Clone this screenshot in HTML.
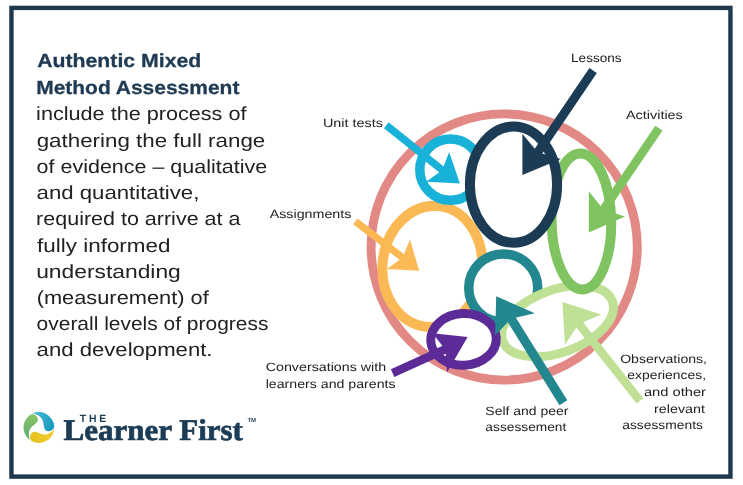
<!DOCTYPE html>
<html><head><meta charset="utf-8"><style>
html,body{margin:0;padding:0;background:#fff;width:743px;height:485px;overflow:hidden}
svg{display:block;will-change:transform} text{text-rendering:geometricPrecision}
</style></head><body>
<svg width="743" height="485" viewBox="0 0 743 485">
<rect x="0" y="0" width="743" height="485" fill="#ffffff"/>
<rect x="11.45" y="7.9" width="719" height="468.7" fill="none" stroke="#1e384d" stroke-width="4.4"/>
<circle cx="504.2" cy="247" r="133.1" fill="#ffffff" stroke="#e38985" stroke-width="8.9"/><ellipse cx="432.3" cy="266.4" rx="49.8" ry="60.6" transform="rotate(6 432.3 266.4)" fill="#ffffff" stroke="#fbb955" stroke-width="10"/><circle cx="450.4" cy="169.7" r="30.6" fill="#ffffff" stroke="#18b2d8" stroke-width="9.5"/><ellipse cx="503.25" cy="288" rx="34.5" ry="34" fill="#ffffff" stroke="#22878f" stroke-width="9.5"/><ellipse cx="557.6" cy="321.2" rx="58.3" ry="31.3" transform="rotate(-20 557.6 321.2)" fill="#ffffff" stroke="#c0e096" stroke-width="9"/><ellipse cx="581.4" cy="221.4" rx="29.8" ry="68" transform="rotate(-1 581.4 221.4)" fill="#ffffff" stroke="#80c462" stroke-width="10"/><ellipse cx="513.5" cy="184.6" rx="43.6" ry="58.1" fill="#ffffff" stroke="#1c3c56" stroke-width="10"/><ellipse cx="463.5" cy="339.4" rx="32.8" ry="25.9" transform="rotate(-3 463.5 339.4)" fill="#ffffff" stroke="#5c2b97" stroke-width="9"/>
<line x1="386.3" y1="125.2" x2="445.4" y2="172.6" stroke="#18b2d8" stroke-width="7.5"/><polygon points="449.2,152.1 459.9,183.4 426.2,181.8 442.1,170.2" fill="#18b2d8"/><line x1="355.4" y1="221.4" x2="405.8" y2="260.1" stroke="#fbb955" stroke-width="7.2"/><polygon points="410.0,239.5 419.2,270.8 387.0,269.1 402.6,257.6" fill="#fbb955"/><line x1="593.1" y1="70.6" x2="535.6" y2="155.5" stroke="#1c3c56" stroke-width="9"/><polygon points="522.4,134.1 522.4,174.9 560.9,159.0 537.8,152.2" fill="#1c3c56"/><line x1="658.9" y1="128.1" x2="601.2" y2="213.0" stroke="#80c462" stroke-width="8.8"/><polygon points="588.8,191.2 588.8,232.4 625.1,216.6 603.3,209.6" fill="#80c462"/><line x1="640.0" y1="400.8" x2="576.6" y2="320.8" stroke="#c0e096" stroke-width="8.6"/><polygon points="601.4,314.6 562.4,301.9 564.9,344.4 579.0,324.0" fill="#c0e096"/><line x1="563.4" y1="402.7" x2="509.0" y2="315.4" stroke="#22878f" stroke-width="9.3"/><polygon points="534.8,313.2 496.2,296.2 495.1,335.4 511.2,318.7" fill="#22878f"/><line x1="392.6" y1="373.2" x2="448.8" y2="347.7" stroke="#5c2b97" stroke-width="8.5"/><polygon points="432.6,333.3 467.6,337.0 447.0,372.5 445.4,349.7" fill="#5c2b97"/>

<g id="logo" transform="translate(38.9 427.5) scale(15.7)">
  <defs>
    <path id="comma" d="M -0.40,-0.90 A 0.99 0.99 0 0 1 0.98,-0.10 C 0.97,0.17 0.64,0.31 0.45,0.19 C 0.29,0.08 0.33,-0.24 0.23,-0.48 C 0.13,-0.70 -0.12,-0.84 -0.40,-0.90 Z"/>
    <linearGradient id="gB" gradientUnits="userSpaceOnUse" x1="-0.4" y1="-0.9" x2="0.8" y2="0.1"><stop offset="0" stop-color="#46b8d6"/><stop offset="1" stop-color="#179bbf"/></linearGradient>
    <linearGradient id="gG" gradientUnits="userSpaceOnUse" x1="-0.4" y1="-0.9" x2="0.8" y2="0.1"><stop offset="0" stop-color="#64ad78"/><stop offset="1" stop-color="#85c267"/></linearGradient>
    <linearGradient id="gY" gradientUnits="userSpaceOnUse" x1="-0.4" y1="-0.9" x2="0.8" y2="0.1"><stop offset="0" stop-color="#f2cc35"/><stop offset="1" stop-color="#e6c21e"/></linearGradient>
  </defs>
  <use href="#comma" fill="url(#gB)"/>
  <use href="#comma" transform="rotate(-120)" fill="url(#gG)"/>
  <use href="#comma" transform="rotate(120)" fill="url(#gY)"/>
</g>
<text id="h1" x="37.16" y="66.90" font-family="Liberation Sans" font-size="19" font-weight="bold" fill="#1f3a52" stroke="#1f3a52" stroke-width="0.3" textLength="164.14" lengthAdjust="spacingAndGlyphs">Authentic Mixed</text><text id="h2" x="36.17" y="93.80" font-family="Liberation Sans" font-size="19" font-weight="bold" fill="#1f3a52" stroke="#1f3a52" stroke-width="0.3" textLength="203.23" lengthAdjust="spacingAndGlyphs">Method Assessment</text><text id="b1" x="36.10" y="120.00" font-family="Liberation Sans" font-size="19" font-weight="normal" fill="#222222" textLength="210.40" lengthAdjust="spacingAndGlyphs">include the process of</text><text id="b2" x="36.70" y="146.90" font-family="Liberation Sans" font-size="19" font-weight="normal" fill="#222222" textLength="228.61" lengthAdjust="spacingAndGlyphs">gathering the full range</text><text id="b3" x="36.60" y="173.10" font-family="Liberation Sans" font-size="19" font-weight="normal" fill="#222222" textLength="230.52" lengthAdjust="spacingAndGlyphs">of evidence – qualitative</text><text id="b4" x="36.57" y="199.00" font-family="Liberation Sans" font-size="19" font-weight="normal" fill="#222222" textLength="162.83" lengthAdjust="spacingAndGlyphs">and quantitative,</text><text id="b5" x="36.11" y="225.30" font-family="Liberation Sans" font-size="19" font-weight="normal" fill="#222222" textLength="204.32" lengthAdjust="spacingAndGlyphs">required to arrive at a</text><text id="b6" x="37.10" y="251.90" font-family="Liberation Sans" font-size="19" font-weight="normal" fill="#222222" textLength="133.37" lengthAdjust="spacingAndGlyphs">fully informed</text><text id="b7" x="36.15" y="278.10" font-family="Liberation Sans" font-size="19" font-weight="normal" fill="#222222" textLength="144.65" lengthAdjust="spacingAndGlyphs">understanding</text><text id="b8" x="36.71" y="304.00" font-family="Liberation Sans" font-size="19" font-weight="normal" fill="#222222" textLength="172.00" lengthAdjust="spacingAndGlyphs">(measurement) of</text><text id="b9" x="36.60" y="330.00" font-family="Liberation Sans" font-size="19" font-weight="normal" fill="#222222" textLength="231.81" lengthAdjust="spacingAndGlyphs">overall levels of progress</text><text id="b10" x="36.60" y="356.20" font-family="Liberation Sans" font-size="19" font-weight="normal" fill="#222222" textLength="175.93" lengthAdjust="spacingAndGlyphs">and development.</text><text id="l_less" x="571.07" y="62.00" font-family="Liberation Sans" font-size="12" font-weight="normal" fill="#222222" textLength="50.56" lengthAdjust="spacingAndGlyphs">Lessons</text><text id="l_act" x="626.00" y="118.80" font-family="Liberation Sans" font-size="12" font-weight="normal" fill="#222222" textLength="56.79" lengthAdjust="spacingAndGlyphs">Activities</text><text id="l_unit" x="322.90" y="127.00" font-family="Liberation Sans" font-size="12" font-weight="normal" fill="#222222" textLength="60.04" lengthAdjust="spacingAndGlyphs">Unit tests</text><text id="l_asg" x="269.70" y="218.00" font-family="Liberation Sans" font-size="12" font-weight="normal" fill="#222222" textLength="81.69" lengthAdjust="spacingAndGlyphs">Assignments</text><text id="l_conv1" x="265.70" y="371.00" font-family="Liberation Sans" font-size="12" font-weight="normal" fill="#222222" textLength="120.51" lengthAdjust="spacingAndGlyphs">Conversations with</text><text id="l_conv2" x="265.69" y="387.50" font-family="Liberation Sans" font-size="12" font-weight="normal" fill="#222222" textLength="129.94" lengthAdjust="spacingAndGlyphs">learners and parents</text><text id="l_self1" x="485.37" y="414.70" font-family="Liberation Sans" font-size="12" font-weight="normal" fill="#222222" textLength="82.94" lengthAdjust="spacingAndGlyphs">Self and peer</text><text id="l_self2" x="485.38" y="430.80" font-family="Liberation Sans" font-size="12" font-weight="normal" fill="#222222" textLength="80.94" lengthAdjust="spacingAndGlyphs">assessement</text><text id="l_obs1" x="620.18" y="362.50" font-family="Liberation Sans" font-size="12" font-weight="normal" fill="#222222" textLength="86.82" lengthAdjust="spacingAndGlyphs">Observations,</text><text id="l_obs2" x="627.30" y="378.70" font-family="Liberation Sans" font-size="12" font-weight="normal" fill="#222222" textLength="78.72" lengthAdjust="spacingAndGlyphs">experiences,</text><text id="l_obs3" x="643.90" y="395.50" font-family="Liberation Sans" font-size="12" font-weight="normal" fill="#222222" textLength="62.11" lengthAdjust="spacingAndGlyphs">and other</text><text id="l_obs4" x="654.02" y="413.40" font-family="Liberation Sans" font-size="12" font-weight="normal" fill="#222222" textLength="51.01" lengthAdjust="spacingAndGlyphs">relevant</text><text id="l_obs5" x="622.27" y="429.20" font-family="Liberation Sans" font-size="12" font-weight="normal" fill="#222222" textLength="80.64" lengthAdjust="spacingAndGlyphs">assessments</text><text id="logo_the" x="79.69" y="422.00" font-family="Liberation Sans" font-size="10.4" font-weight="bold" fill="#1c3c56" textLength="26.52" lengthAdjust="spacing">THE</text><text id="logo_lf" x="63.50" y="440.20" font-family="Liberation Serif" font-size="30" font-weight="bold" fill="#1c3c56" stroke="#1c3c56" stroke-width="0.7" textLength="179.41" lengthAdjust="spacingAndGlyphs">Learner First</text><text id="logo_tm" x="247.45" y="422.00" font-family="Liberation Sans" font-size="6" font-weight="bold" fill="#1c3c56" textLength="8.70" lengthAdjust="spacingAndGlyphs">TM</text>
</svg>
</body></html>
